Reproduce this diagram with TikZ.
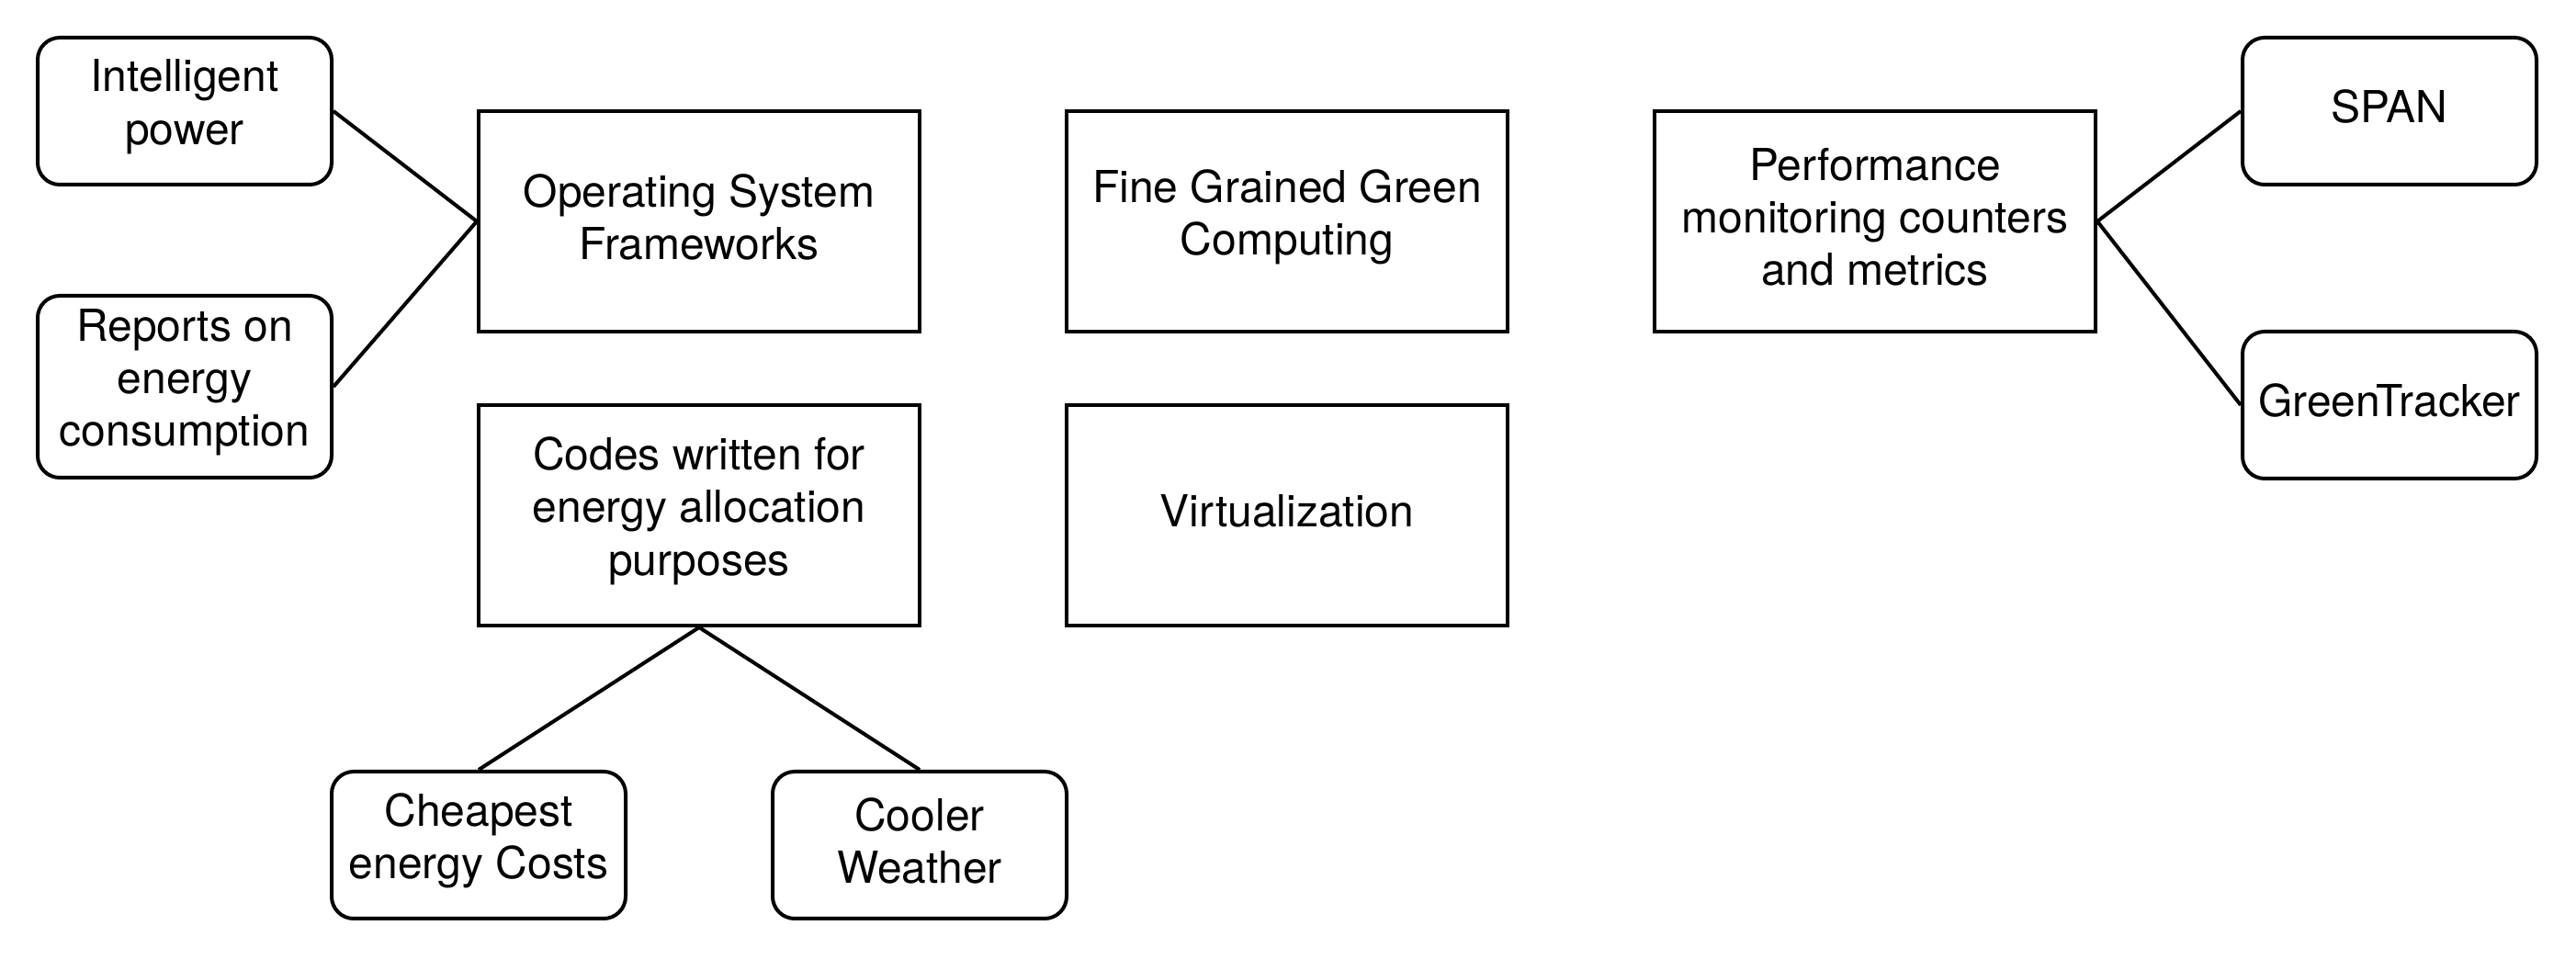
\documentclass[tikz,border=0pt]{standalone}
\usepackage{fontspec}
\setmainfont{TeX Gyre Heros}
\begin{document}
\begin{tikzpicture}[x=1pt,y=1pt,
  base/.style={draw=black, line width=1pt, inner sep=0pt},
  txt/.style={align=center, inner sep=0pt, font=\fontsize{12}{14.3}\selectfont, text=black, yshift=1.2pt},
  t/.style={label={[txt]center:{#1}}},
  sqbox/.style={base, minimum width=120pt, minimum height=60pt},
  rbox/.style={base, rounded corners=6pt, minimum width=80pt, minimum height=40pt},
  link/.style={draw=black, line width=1pt}]
\useasboundingbox (0,0) rectangle (701,-261);
\node[rbox, t={Intelligent\\power}] (ip) at (50.25,-30.25) {};
\node[rbox, minimum height=49.5pt, t={Reports on\\energy\\consumption}] (rep) at (50.25,-105.25) {};
\node[sqbox, t={Operating System\\Frameworks}] (os) at (190.25,-60.25) {};
\node[sqbox, t={Fine Grained Green\\Computing}] (fine) at (350.25,-60.25) {};
\node[sqbox, t={Codes written for\\energy allocation\\purposes}] (codes) at (190.25,-140.25) {};
\node[sqbox, t={Virtualization}] (virt) at (350.25,-140.25) {};
\node[rbox, t={Cheapest\\energy Costs}] (cheap) at (130.25,-230) {};
\node[rbox, t={Cooler\\Weather}] (cool) at (250.25,-230) {};
\node[sqbox, t={Performance\\monitoring counters\\and metrics}] (perf) at (510.25,-60.25) {};
\node[rbox, t={SPAN}] (span) at (650.25,-30.25) {};
\node[rbox, t={GreenTracker}] (gt) at (650.25,-110.25) {};
\draw[link] (ip.east) -- (os.west);
\draw[link] (rep.east) -- (os.west);
\draw[link] (codes.south) -- (cheap.north);
\draw[link] (codes.south) -- (cool.north);
\draw[link] (perf.east) -- (span.west);
\draw[link] (perf.east) -- (gt.west);
\end{tikzpicture}
\end{document}
